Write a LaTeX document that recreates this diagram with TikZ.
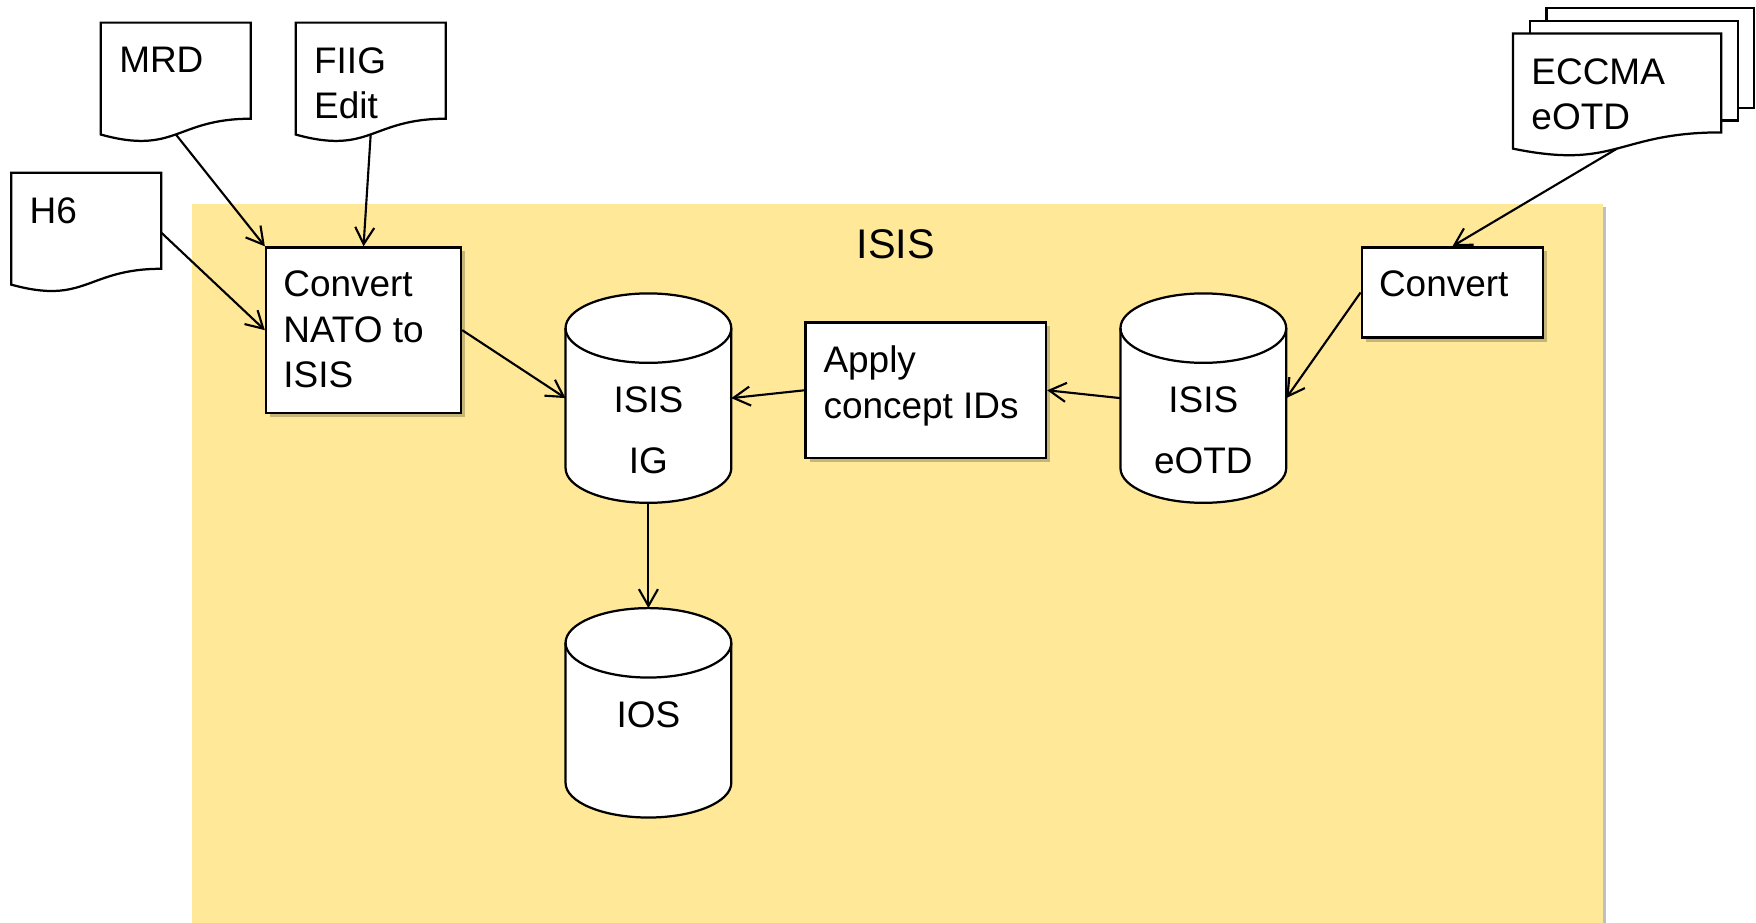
\documentclass[tikz,border=0pt]{standalone}
\usepackage{fontspec}
\setmainfont{Liberation Sans}
\usetikzlibrary{calc,arrows.meta,shadows}
\definecolor{isisyellow}{RGB}{255,233,153}
\newcommand\docshape[1]{%
  \path[docline] (#1.north west) -- (#1.north east) -- ($(#1.north east)!0.802!(#1.south east)$)
    .. controls ($(#1.north)!0.802!(#1.south)$) and ($(#1.north)!1.1075!(#1.south)$) ..
    ($(#1.north west)!0.934!(#1.south west)$) -- cycle;}
\newcommand\drawcyl[1]{%
  \path[fill=white] ([yshift=-31pt]#1.north west) -- ([yshift=31pt]#1.south west)
    arc[start angle=180,end angle=360,x radius=74pt,y radius=31pt] -- ([yshift=-31pt]#1.north east)
    arc[start angle=0,end angle=180,x radius=74pt,y radius=31pt] -- cycle;
  \draw[cylline] ([yshift=-31pt]#1.north west) -- ([yshift=31pt]#1.south west)
    arc[start angle=180,end angle=360,x radius=74pt,y radius=31pt] -- ([yshift=-31pt]#1.north east);
  \draw[cylline] ([yshift=-31pt]#1.north) ellipse[x radius=74pt,y radius=31pt];}
\begin{document}
\begin{tikzpicture}[x=1pt,y=-1pt,
  conn/.style={line width=1.9pt, -{Straight Barb[length=15pt,width=17pt,line width=1.9pt]}},
  boxstyle/.style={draw, line width=2.2pt, fill=white, inner sep=0pt,
    drop shadow={shadow xshift=3.5pt, shadow yshift=-3.5pt, opacity=0.22, fill=black}},
  holder/.style={inner sep=0pt, outer sep=0pt},
  pagestyle/.style={draw, line width=2pt, fill=white, inner sep=0pt, outer sep=0pt, anchor=north west},
  txt/.style={inner sep=0pt, outer sep=0pt, align=left, font=\fontsize{33}{40.5}\selectfont, anchor=north west},
  ctxt/.style={inner sep=0pt, outer sep=0pt, align=center, font=\fontsize{33}{40.5}\selectfont, anchor=north},
  docline/.style={draw, line width=2pt, fill=white, line join=miter},
  cylline/.style={line width=2pt}
]
\useasboundingbox (0,0) rectangle (1568,824);
\fill[white] (0,0) rectangle (1568,824);

% ISIS area
\node[holder, fill=isisyellow, minimum width=1260pt, minimum height=642pt,
  drop shadow={shadow xshift=3pt, shadow yshift=-3pt, opacity=0.25, fill=black}] (isis) at (801,503) {};
\node[inner sep=0pt, font=\fontsize{37}{44}\selectfont] (title) at (800,218) {ISIS};

% documents
\node[holder, minimum width=134pt, minimum height=107pt] (mrd) at (157,73.7) {};
\node[holder, minimum width=134pt, minimum height=107pt] (fiig) at (331,73.7) {};
\node[holder, minimum width=134pt, minimum height=107pt] (h6) at (77,207.7) {};
\docshape{mrd}
\docshape{fiig}
\docshape{h6}

\node[pagestyle, minimum width=185pt, minimum height=89.5pt] (page3) at (1381,7) {};
\node[pagestyle, minimum width=186pt, minimum height=89pt] (page2) at (1366,18.5) {};
\node[holder, minimum width=186pt, minimum height=110pt] (eccma) at (1444,85) {};
\docshape{eccma}

% process boxes
\node[boxstyle, minimum width=174pt, minimum height=147.5pt] (cnv) at (324.6,294.8) {};
\node[boxstyle, minimum width=214.5pt, minimum height=121pt] (apply) at (826.7,348.5) {};
\node[boxstyle, minimum width=162pt, minimum height=80.5pt] (conv) at (1297,261.2) {};

% cylinders
\node[holder, minimum width=148pt, minimum height=187pt] (ig) at (579,355.5) {};
\node[holder, minimum width=148pt, minimum height=187pt] (ios) at (579,636.5) {};
\node[holder, minimum width=148pt, minimum height=187pt] (eotd) at (1074.5,355.5) {};
\drawcyl{ig}
\drawcyl{ios}
\drawcyl{eotd}

% texts
\node[txt] (mrdT) at ([xshift=16.5pt,yshift=-22pt]mrd.north west) {MRD};
\node[txt] (fiigT) at ([xshift=16.5pt,yshift=-22pt]fiig.north west) {FIIG\\Edit};
\node[txt] (h6T) at ([xshift=16.5pt,yshift=-22pt]h6.north west) {H6};
\node[txt] (eccmaT) at ([xshift=16.5pt,yshift=-22pt]eccma.north west) {ECCMA\\eOTD};
\node[txt] (cnvT) at ([xshift=16.5pt,yshift=-22pt]cnv.north west) {Convert\\NATO to\\ISIS};
\node[txt] (applyT) at ([xshift=17pt,yshift=-22pt]apply.north west) {Apply\\concept IDs};
\node[txt] (convT) at ([xshift=16.5pt,yshift=-22pt]conv.north west) {Convert};
\node[ctxt] (igT) at ([yshift=-83pt]ig.north) {ISIS\\[14.5pt]IG};
\node[ctxt] (eotdT) at ([yshift=-83pt]eotd.north) {ISIS\\[14.5pt]eOTD};
\node[ctxt] (iosT) at ([yshift=-83.6pt]ios.north) {IOS};

% connectors
\draw[conn] ($(mrd.north)!0.933!(mrd.south)$) -- (cnv.north west);
\draw[conn] ($(fiig.north)!0.933!(fiig.south)$) -- (cnv.north);
\draw[conn] (h6.east) -- (cnv.west);
\draw[conn] (cnv.east) -- (ig.west);
\draw[conn] (apply.west) -- (ig.east);
\draw[conn] (eotd.west) -- (apply.east);
\draw[conn] ($(eccma.north)!0.933!(eccma.south)$) -- (conv.north);
\draw[conn] (conv.west) -- (eotd.east);
\draw[conn] (ig.south) -- (ios.north);
\end{tikzpicture}
\end{document}
